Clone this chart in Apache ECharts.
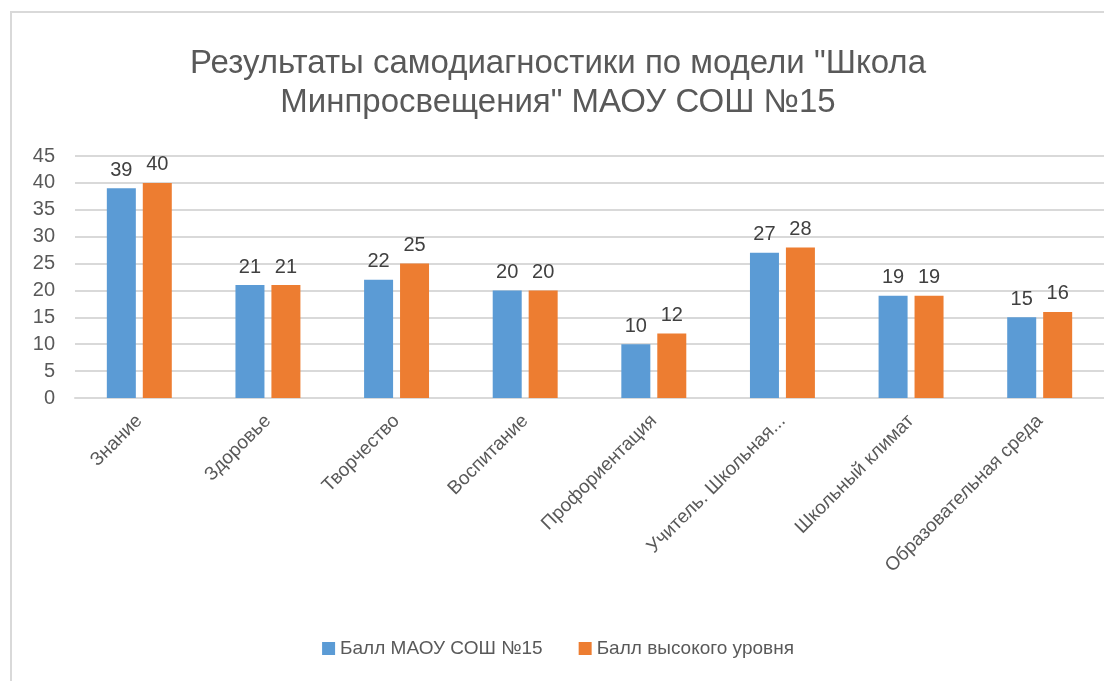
<!doctype html>
<html>
<head>
<meta charset="UTF-8">
<title>Результаты самодиагностики</title>
<script src="https://cdn.jsdelivr.net/npm/echarts@6/dist/echarts.min.js"></script>
<style>
	html, body { margin: 0; padding: 0; background: #fff; }
	#frame {
		position: absolute; left: 10px; top: 11px; width: 1094px; height: 670px;
		border-left: 2px solid #d9d9d9; border-top: 2px solid #d9d9d9;
	}
	#main { width: 1092px; height: 668px; }
</style>
</head>
<body>
<div id="frame"><div id="main"></div></div>
<script>
	// данные с диаграммы
	var categories = ['Знание', 'Здоровье', 'Творчество', 'Воспитание', 'Профориентация',
		'Учитель. Школьная...', 'Школьный климат', 'Образовательная среда'];
	var seriesNames = ['Балл МАОУ СОШ №15', 'Балл высокого уровня'];
	var schoolScore = [39, 21, 22, 20, 10, 27, 19, 15];
	var highScore = [40, 21, 25, 20, 12, 28, 19, 16];
	var colors = ['#5b9bd5', '#ed7d31'];

	var font = 'Liberation Sans';
	var myChart = echarts.init(document.getElementById('main'));

	function makeSeries(name, data) {
		return {
			name: name,
			type: 'bar',
			data: data,
			barWidth: 29,
			barGap: '24%',
			label: {
				show: true,
				position: 'top',
				distance: 8,
				color: '#404040',
				fontSize: 20,
				fontFamily: font
			}
		};
	}

	var option = {
		backgroundColor: '#fff',
		color: colors,
		animation: false,
		title: {
			text: 'Результаты самодиагностики по модели "Школа\nМинпросвещения" МАОУ СОШ №15',
			left: 'center',
			top: 26,
			textStyle: {
				color: '#595959',
				fontSize: 33,
				fontWeight: 'normal',
				fontFamily: font,
				lineHeight: 39
			}
		},
		legend: {
			bottom: 18,
			left: 'center',
			itemWidth: 13,
			itemHeight: 13,
			itemGap: 36,
			icon: 'rect',
			textStyle: { color: '#595959', fontSize: 19, fontFamily: font },
			data: seriesNames
		},
		grid: {
			left: 63,
			right: 0,
			top: 143,
			bottom: 283
		},
		xAxis: {
			type: 'category',
			data: categories,
			axisLine: { lineStyle: { color: '#d9d9d9', width: 2 } },
			axisTick: { show: false },
			axisLabel: {
				rotate: 45,
				interval: 0,
				margin: 20,
				color: '#595959',
				fontSize: 19,
				fontFamily: font
			}
		},
		yAxis: {
			type: 'value',
			min: 0,
			max: 45,
			interval: 5,
			axisLine: { show: false },
			axisTick: { show: false },
			axisLabel: { color: '#595959', fontSize: 20, fontFamily: font, margin: 20 },
			splitLine: { lineStyle: { color: '#d9d9d9', width: 2 } }
		},
		series: [
			makeSeries(seriesNames[0], schoolScore),
			makeSeries(seriesNames[1], highScore)
		]
	};

	myChart.setOption(option);
</script>
</body>
</html>
